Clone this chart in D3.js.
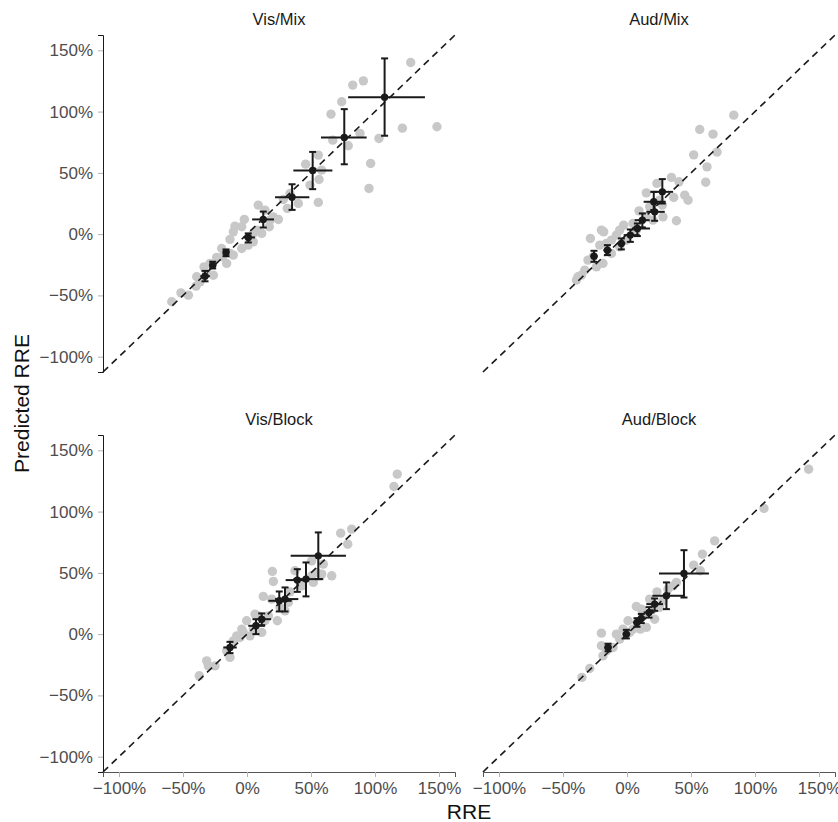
<!DOCTYPE html>
<html>
<head>
<meta charset="utf-8">
<script src="https://cdn.jsdelivr.net/npm/d3@7"></script>
<style>
  html, body { margin: 0; padding: 0; background: #fff; }
  svg { display: block; font-family: "Liberation Sans", Arial, sans-serif; }
  .tick text { fill: #4d4d4d; font-size: 17px; font-family: "Liberation Sans", Arial, sans-serif; }
  .tick line { stroke: #b3b3b3; }
  .strip { fill: #1a1a1a; font-size: 16.5px; text-anchor: middle; }
  .title { fill: #111; font-size: 21px; text-anchor: middle; }
</style>
</head>
<body>
<div id="viz"></div>
<script>
// axis ticks (percent)
const ticks = [-100, -50, 0, 50, 100, 150];
const domain = [-112.5, 162.5];

const panelNames = ["Vis/Mix", "Aud/Mix", "Vis/Block", "Aud/Block"];

// individual observations [RRE, predicted RRE]
const visMixPoints = [
  [127.9, 140.1], [82.6, 121.6], [90.9, 125.1], [74, 108], [65.6, 97.9], [121.4, 86.5],
  [148.4, 87.6], [103.1, 78.1], [88.3, 82.2], [67, 76.7], [79.1, 72.1], [96.6, 57.7],
  [95.3, 37.3], [55.7, 25.9], [56.3, 44.6], [55.7, 64.5], [45.8, 57.1], [58.3, 52.2],
  [49.2, 40], [40.1, 25], [28.4, 28.3], [33.6, 33.2], [31.5, 21], [8.8, 23.7],
  [24.5, 12], [17.4, 6], [20.5, 14.1], [14, 19.6], [-2.1, 12], [-9.4, 6.5],
  [-4.1, 6], [-13.3, -4.3], [4.9, -6.3], [-4.1, -11.7], [-10.7, -17.1], [-19.8, -11.7],
  [-15.9, -23.9], [-23.7, -19], [-33.6, -26.7], [-26.3, -33.5], [-39.3, -34.8], [-39.8, -42.4],
  [-45.8, -49.8], [-51.6, -47.9], [-58.8, -55.2], [4.9, 0.6], [18, 11.4], [7.6, 3.3],
  [-13.3, -15.7], [-28.9, -23.9], [-36.7, -38.9], [-10.7, 1.9], [1, -9], [11.5, 0.6],
  [-19, -18.5], [-31.5, -32.1]
];
const audMixPoints = [
  [83.4, 97.1], [56.8, 85.4], [67.2, 81.6], [52.1, 64.7], [70.3, 66.9], [62.5, 54.9],
  [61.5, 42.4], [34.7, 46.3], [40.6, 42.7], [23.4, 41.4], [15.1, 33.7], [36.5, 29.9],
  [45.1, 31.8], [47.7, 27.7], [27.6, 23.7], [38.6, 10.9], [28.1, 14.1], [17.7, 22.3],
  [9.4, 19], [-2.6, 7.3], [-20, 3.3], [-28.6, -3.5], [-18.2, 1.9], [-8.3, -0.8],
  [4.7, 8.7], [-5.7, -10.4], [-12.2, -15.7], [-18.8, -23.9], [-23.9, -26.7], [-30.5, -21.2],
  [-33, -29.4], [-38.3, -34.8], [-39.5, -37.5], [-0.5, -4.9], [7.3, 3.3], [15.1, 14.1],
  [20.3, 11.4], [25.5, 27.7], [-16.1, -7.6], [-26.5, -18.5], [-5.7, 3.3], [-12.2, -4.9],
  [-21.3, -9], [-35.6, -33.5]
];
const visBlockPoints = [
  [117.4, 130.6], [114.8, 120.5], [81.8, 85.7], [73.2, 82.4], [78.7, 73.4], [66.2, 47.6],
  [59.6, 57.1], [58.4, 49], [50.5, 59.8], [51.8, 42.2], [37.5, 51.7], [42.7, 39.4],
  [19.8, 51.2], [20.6, 43], [12.7, 30.8], [19.3, 28.6], [33.6, 34.5], [23.7, 10.9],
  [16.7, 14.9], [6.3, 16.3], [-0.3, 10.9], [-4.1, 4.1], [11.5, 1.4], [2.3, -1.4],
  [-8, -1.4], [-13.3, -19], [-15.9, -13.6], [-31.5, -21.8], [-25, -25.9], [-37.3, -34],
  [-30.2, -25.9], [-2.9, 1.4], [4.9, 4.1], [14, 10.9], [25.8, 21.8], [32.3, 25.9],
  [8.8, 14.9], [-10.7, -5.5], [-5.5, -2.7], [54.4, 50.3], [50.5, 47.6], [29.7, 19]
];
const audBlockPoints = [
  [141.9, 134.6], [107, 102.6], [68.5, 76.1], [58.9, 65.3], [52.1, 56.3], [57.3, 51.7],
  [38.6, 42.2], [32, 36.7], [23.4, 34.5], [17.7, 28.6], [7.3, 22.6], [25.5, 21.8],
  [21.6, 12.2], [15.1, 5.5], [10.5, 4.1], [0.8, 10.9], [-8.3, 0], [-20, 0.8],
  [-20, -9.5], [-18.8, -17.7], [-10.9, -10.9], [-29.1, -28], [-35.2, -35.3], [-5.7, -4.1],
  [4.7, 4.1], [12.5, 14.9], [20.3, 20.4], [35.9, 39.4], [28.1, 27.2], [2.1, 1.4],
  [-16.1, -13.6], [-3.1, 4.1], [11.2, 20.4]
];

// binned means [x, xLow, xHigh, y, yLow, yHigh]
const visMixMeans = [
  [-32.8, -36.5, -29, -34.3, -38.5, -30],
  [-26.8, -29.5, -24, -25.3, -28, -22.5],
  [-16.4, -18.5, -14.3, -15.2, -18, -12.5],
  [1, -2.9, 6.2, -2.7, -6.8, 0.6],
  [12.7, 4, 21.1, 12, 5.4, 18.4],
  [35.2, 21.9, 48.7, 30.2, 19.8, 40.7],
  [51.3, 36.2, 66.7, 52, 36.7, 67.1],
  [76, 57.8, 93.5, 78.9, 57, 102],
  [107.5, 79, 139, 111.8, 80.3, 143.4]
];
const audMixMeans = [
  [-25.8, -28.5, -23, -18, -22.6, -13.6],
  [-15.3, -18.5, -12, -13.1, -17.1, -9],
  [-4.4, -7.5, -1.3, -7.6, -12.5, -3.5],
  [2.6, -2.6, 9.9, -0.8, -6.3, 3.8],
  [8.1, 4, 18, 4.6, -1.6, 8.7],
  [12, 6, 17.7, 11.4, 5.5, 16.9],
  [21.6, 15.1, 29.5, 18.2, 10.9, 25.1],
  [20.9, 13, 30.2, 26.4, 19.6, 34.5],
  [27.6, 19, 36, 34.5, 25, 44.9]
];
const visBlockMeans = [
  [-13.3, -18.5, -8, -10.9, -15.5, -6.3],
  [7, 1, 14, 6.8, 0, 12.2],
  [11.5, 8.3, 18.8, 12.2, 7.3, 16.9],
  [25.2, 16.7, 34.9, 27.2, 18.5, 34.8],
  [29.7, 21.9, 40.1, 28.6, 18.5, 38.1],
  [39.3, 30.2, 47.9, 44.1, 34.5, 53],
  [46.1, 36.2, 59.6, 44.9, 30.8, 58.5],
  [55.7, 34.1, 77.3, 63.9, 44.9, 83]
];
const audBlockMeans = [
  [-14.8, -17.8, -11.8, -10.9, -14, -7.8],
  [-0.5, -3.5, 2.5, 0, -3.5, 3.5],
  [7.8, 4.5, 11, 9.5, 6, 13],
  [11.2, 7.5, 15, 12.8, 9, 16.5],
  [17.2, 13, 21.5, 17.7, 13.5, 22],
  [21.6, 15.1, 28.1, 24.5, 19, 29.1],
  [30.8, 19.8, 44.3, 31.3, 20.4, 42.2],
  [44.5, 25, 64, 49.5, 29.9, 68.5]
];

const panelPoints = [visMixPoints, audMixPoints, visBlockPoints, audBlockPoints];
const panelMeans = [visMixMeans, audMixMeans, visBlockMeans, audBlockMeans];

const W = 838, H = 822;
const colX = [103, 483];
const rowY = [35, 435];
const PW = 352, PH = 337;

const svg = d3.select("#viz").append("svg").attr("width", W).attr("height", H);

const fmt = (d) => (d < 0 ? "\u2212" + Math.abs(d) : d) + "%";

panelNames.forEach((name, i) => {
  const col = i % 2, row = Math.floor(i / 2);
  const g = svg.append("g").attr("transform", `translate(${colX[col]},${rowY[row]})`);
  const x = d3.scaleLinear().domain(domain).range([0, PW]);
  const y = d3.scaleLinear().domain(domain).range([PH, 0]);

  g.append("text").attr("class", "strip")
    .attr("x", PW / 2).attr("y", -10.5).text(name);

  // grey observations
  g.append("g").selectAll("circle").data(panelPoints[i]).join("circle")
    .attr("cx", (d) => x(d[0])).attr("cy", (d) => y(d[1]))
    .attr("r", 4.7).attr("fill", "#c8c8c8");

  // identity line
  g.append("line")
    .attr("x1", x(domain[0])).attr("y1", y(domain[0]))
    .attr("x2", x(domain[1])).attr("y2", y(domain[1]))
    .attr("stroke", "#1a1a1a").attr("stroke-width", 1.6)
    .attr("stroke-dasharray", "7,5");

  // means with error bars
  const m = g.append("g").attr("stroke", "#1a1a1a").attr("stroke-width", 2);
  const means = panelMeans[i];
  m.selectAll("line.h").data(means).join("line").attr("class", "h")
    .attr("x1", (d) => x(d[1])).attr("x2", (d) => x(d[2]))
    .attr("y1", (d) => y(d[3])).attr("y2", (d) => y(d[3]));
  m.selectAll("line.v").data(means).join("line").attr("class", "v")
    .attr("x1", (d) => x(d[0])).attr("x2", (d) => x(d[0]))
    .attr("y1", (d) => y(d[4])).attr("y2", (d) => y(d[5]));
  m.selectAll("line.cl").data(means).join("line").attr("class", "cl")
    .attr("x1", (d) => x(d[0]) - 3.5).attr("x2", (d) => x(d[0]) + 3.5)
    .attr("y1", (d) => y(d[4])).attr("y2", (d) => y(d[4]));
  m.selectAll("line.ch").data(means).join("line").attr("class", "ch")
    .attr("x1", (d) => x(d[0]) - 3.5).attr("x2", (d) => x(d[0]) + 3.5)
    .attr("y1", (d) => y(d[5])).attr("y2", (d) => y(d[5]));
  g.append("g").selectAll("circle").data(means).join("circle")
    .attr("cx", (d) => x(d[0])).attr("cy", (d) => y(d[3]))
    .attr("r", 3.7).attr("fill", "#1a1a1a");

  if (col === 0) {
    const ay = g.append("g").call(d3.axisLeft(y).tickValues(ticks).tickFormat(fmt).tickSize(5).tickPadding(5));
    ay.select(".domain").attr("stroke", "#1a1a1a");
    ay.selectAll(".tick line").attr("stroke", "#b3b3b3");
  }
  if (row === 1) {
    const ax = g.append("g").attr("transform", `translate(0,${PH})`)
      .call(d3.axisBottom(x).tickValues(ticks).tickFormat(fmt).tickSize(5).tickPadding(5));
    ax.select(".domain").attr("stroke", "#555");
    ax.selectAll(".tick line").attr("stroke", "#b3b3b3");
  }
});

svg.append("text").attr("class", "title")
  .attr("x", (colX[0] + colX[1] + PW) / 2).attr("y", 819).text("RRE");
svg.append("text").attr("class", "title")
  .attr("transform", `translate(29,${(rowY[0] + rowY[1] + PH) / 2}) rotate(-90)`)
  .text("Predicted RRE");
</script>
</body>
</html>
